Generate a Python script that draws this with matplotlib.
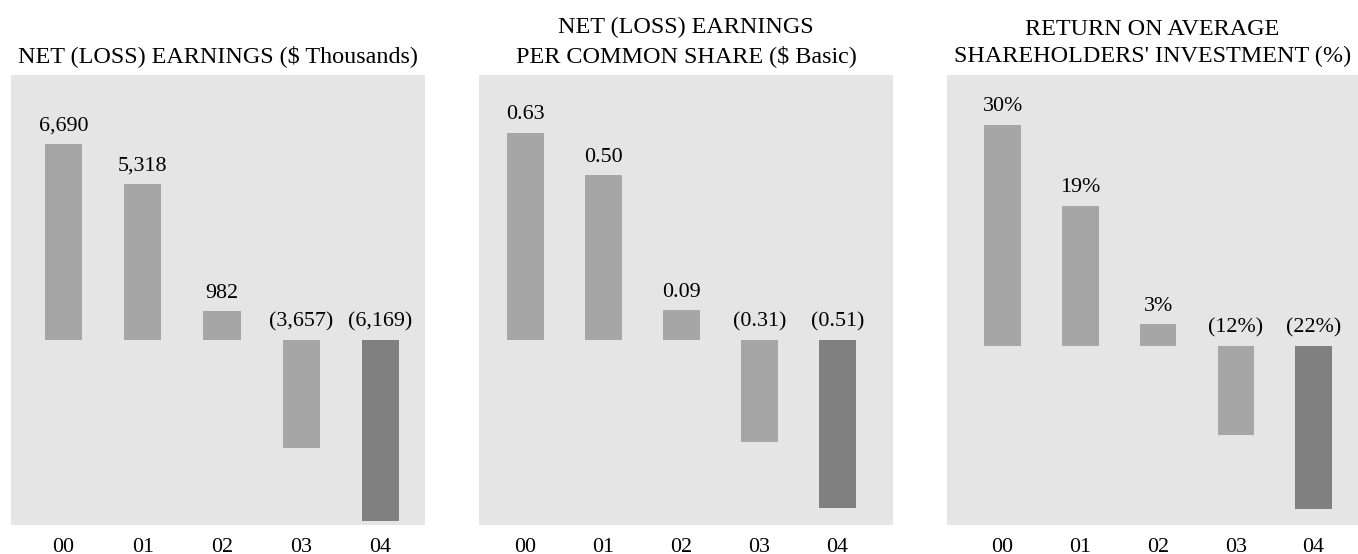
import matplotlib.pyplot as plt

plt.rcParams['font.family'] = ['Liberation Serif', 'DejaVu Serif']

anios = ['00', '01', '02', '03', '04']

ganancias = [6690, 5318, 982, -3657, -6169]
ganancias_txt = ['6,690', '5,318', '982', '(3,657)', '(6,169)']

por_accion = [0.63, 0.50, 0.09, -0.31, -0.51]
por_accion_txt = ['0.63', '0.50', '0.09', '(0.31)', '(0.51)']

retorno = [30, 19, 3, -12, -22]
retorno_txt = ['30%', '19%', '3%', '(12%)', '(22%)']

titulos = [
    "NET (LOSS) EARNINGS ($ Thousands)",
    "NET (LOSS) EARNINGS\nPER COMMON SHARE ($ Basic)",
    "RETURN ON AVERAGE\nSHAREHOLDERS' INVESTMENT (%)",
]

GRIS_FONDO = '#e5e5e5'
GRIS_BARRA = '#a6a6a6'
GRIS_OSCURO = '#808080'

W, H = 1358, 554
fig = plt.figure(figsize=(W / 100, H / 100), dpi=100)

# cajas en pixeles: (izq, der), limites x, limites y
paneles = [
    ((11, 425), (-0.662, 4.56), (-6291, 9026)),
    ((479, 893), (-0.596, 4.71), (-0.562, 0.805)),
    ((947, 1358), (-0.714, 4.572), (-24.2, 36.7)),
]
datos = [
    (ganancias, ganancias_txt),
    (por_accion, por_accion_txt),
    (retorno, retorno_txt),
]

for (caja, xl, yl), (vals, textos), titulo in zip(paneles, datos, titulos):
    x0, x1 = caja
    ax = fig.add_axes([x0 / W, (H - 525) / H, (x1 - x0) / W, 450 / H])
    ax.set_facecolor(GRIS_FONDO)
    colores = [GRIS_BARRA] * (len(vals) - 1) + [GRIS_OSCURO]
    ax.bar(range(len(vals)), vals, width=0.47, color=colores)
    for i, (v, t) in enumerate(zip(vals, textos)):
        y = max(v, 0)
        ax.annotate(t, (i, y), xytext=(0, 9.6), textcoords='offset points',
                    ha='center', va='baseline', fontsize=15.8)
    ax.set_xlim(*xl)
    ax.set_ylim(*yl)
    ax.set_xticks(range(len(vals)))
    ax.set_xticklabels(anios, fontsize=15.8)
    ax.tick_params(axis='x', length=0, pad=9)
    ax.set_yticks([])
    for s in ax.spines.values():
        s.set_visible(False)
    ax.set_title(titulo, fontsize=17.4, pad=9, linespacing=1.42)

fig.savefig('out.png', dpi=100)
